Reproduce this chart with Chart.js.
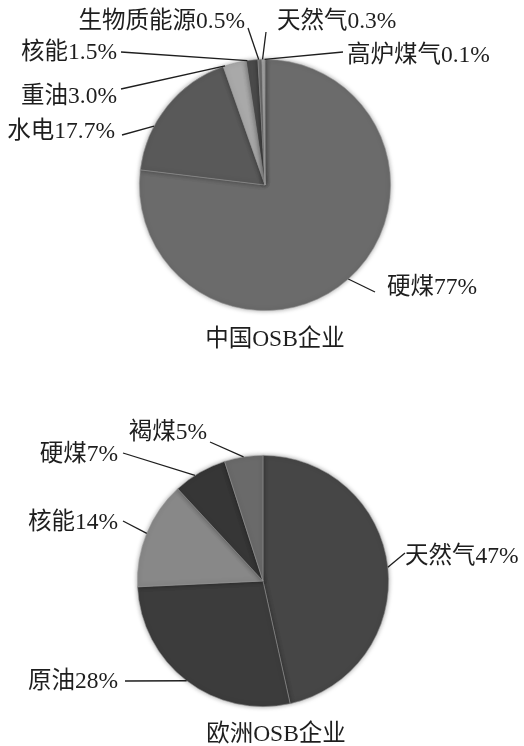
<!DOCTYPE html>
<html>
<head>
<meta charset="utf-8">
<script src="https://cdn.jsdelivr.net/npm/chart.js@4/dist/chart.umd.min.js"></script>
<style>
  html, body { margin: 0; padding: 0; background: #fff; }
  canvas { position: absolute; left: 0; }
</style>
</head>
<body>
<canvas id="cn" width="524" height="373" style="top:0"></canvas>
<canvas id="eu" width="524" height="373" style="top:373px"></canvas>
<script>
// 中国OSB企业能源结构
const cnCategories = ['硬煤', '水电', '重油', '核能', '生物质能源', '天然气', '高炉煤气'];
const cnValues = [77, 17.7, 3.0, 1.5, 0.5, 0.3, 0.1];
const cnValueText = ['77%', '17.7%', '3.0%', '1.5%', '0.5%', '0.3%', '0.1%'];
const cnColors = ['#6b6b6b', '#595959', '#a9a9a9', '#4b4b4b', '#7c7c7c', '#b4b4b4', '#959595'];

// 欧洲OSB企业能源结构
const euCategories = ['天然气', '原油', '核能', '硬煤', '褐煤'];
const euValues = [47, 28, 14, 7, 5];
const euValueText = ['47%', '28%', '14%', '7%', '5%'];
const euColors = ['#464646', '#3c3c3c', '#888888', '#363636', '#6a6a6a'];

const FONT = '23.5px "Liberation Serif", "Noto Sans CJK SC", serif';

// Callout placement: text anchor (tx, ty, align), leader end near text (lx, ly),
// and where along the slice's arc the leader meets the rim (at: 0..1).
const cnCallouts = [
  { tx: 387, ty: 288, align: 'left',  lx: 375, ly: 292, at: 0.5 },
  { tx: 115, ty: 132, align: 'right', lx: 122, ly: 135, at: 0.33 },
  { tx: 117, ty: 97,  align: 'right', lx: 121, ly: 89,  at: 0.08 },
  { tx: 117, ty: 53,  align: 'right', lx: 121, ly: 52,  at: 0.1 },
  { tx: 245, ty: 22,  align: 'right', lx: 248, ly: 28,  at: 0.2 },
  { tx: 277, ty: 22,  align: 'left',  lx: 266, ly: 32,  at: 0.3 },
  { tx: 347, ty: 56,  align: 'left',  lx: 343, ly: 52,  at: 0.5 }
];
const euCallouts = [
  { tx: 405, ty: 557 - 373, align: 'left',  lx: 405, ly: 553 - 373, at: 0.5 },
  { tx: 118, ty: 682 - 373, align: 'right', lx: 125, ly: 681 - 373, at: 0.5 },
  { tx: 118, ty: 523 - 373, align: 'right', lx: 123, ly: 521 - 373, at: 0.5 },
  { tx: 118, ty: 455 - 373, align: 'right', lx: 123, ly: 453 - 373, at: 0.4 },
  { tx: 207, ty: 433 - 373, align: 'right', lx: 210, ly: 442 - 373, at: 0.5 }
];

// Draws the leader lines, slice labels and the panel caption.
const calloutPlugin = {
  id: 'callouts',
  beforeDatasetsDraw(chart) {
    const ctx = chart.ctx;
    ctx.save();
    ctx.shadowColor = 'rgba(0,0,0,0.35)';
    ctx.shadowBlur = 5;
  },
  afterDatasetsDraw(chart) {
    chart.ctx.restore();
  },
  afterDraw(chart, args, opts) {
    const ctx = chart.ctx;
    const meta = chart.getDatasetMeta(0);
    ctx.save();
    ctx.font = FONT;
    ctx.fillStyle = '#1e1e1e';
    ctx.strokeStyle = '#1e1e1e';
    ctx.lineWidth = 1.3;
    ctx.textBaseline = 'middle';
    meta.data.forEach((arc, i) => {
      const c = opts.layout[i];
      const p = arc.getProps(['x', 'y', 'startAngle', 'endAngle', 'outerRadius'], true);
      const a = p.startAngle + (p.endAngle - p.startAngle) * c.at;
      const ax = p.x + Math.cos(a) * p.outerRadius;
      const ay = p.y + Math.sin(a) * p.outerRadius;
      ctx.beginPath();
      ctx.moveTo(c.lx, c.ly);
      ctx.lineTo(ax, ay);
      ctx.stroke();
      ctx.textAlign = c.align;
      ctx.fillText(opts.names[i] + opts.values[i], c.tx, c.ty);
    });
    ctx.textAlign = 'center';
    ctx.fillText(opts.caption.text, opts.caption.x, opts.caption.y);
    ctx.restore();
  }
};

function makePie(id, names, values, valueText, colors, layout, padding, caption) {
  return new Chart(document.getElementById(id), {
    type: 'pie',
    data: {
      labels: names,
      datasets: [{
        data: values,
        backgroundColor: colors,
        borderColor: 'rgba(150,150,150,0.7)',
        borderWidth: 0.8
      }]
    },
    options: {
      responsive: false,
      animation: false,
      layout: { padding },
      plugins: {
        legend: { display: false },
        tooltip: { enabled: false },
        callouts: { names, values: valueText, layout, caption }
      }
    },
    plugins: [calloutPlugin]
  });
}

makePie('cn', cnCategories, cnValues, cnValueText, cnColors, cnCallouts,
  { left: 139, right: 133, top: 58, bottom: 61 },
  { text: '中国OSB企业', x: 275, y: 340 });

makePie('eu', euCategories, euValues, euValueText, euColors, euCallouts,
  { left: 137, right: 135, top: 82, bottom: 39 },
  { text: '欧洲OSB企业', x: 276, y: 735 - 373 });
</script>
</body>
</html>
